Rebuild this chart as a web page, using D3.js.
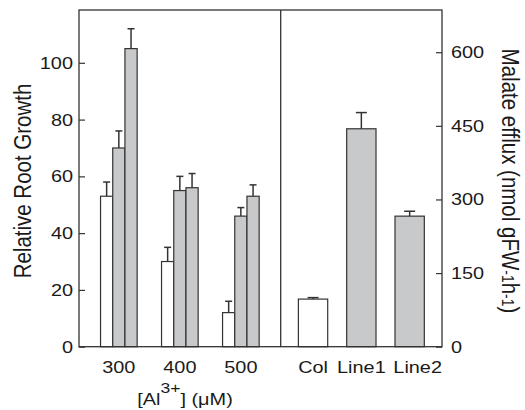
<!DOCTYPE html>
<html>
<head>
<meta charset="utf-8">
<script src="https://cdn.jsdelivr.net/npm/d3@7"></script>
<style>
  body { margin: 0; background: #fff; }
  svg { display: block; }
  text { font-family: "Liberation Sans", Arial, sans-serif; fill: #1a1a1a; }
</style>
</head>
<body>
<svg id="chart" width="525" height="410"></svg>
<script>
const doses = ['300', '400', '500'];
const genotypes = ['Col', 'Line1', 'Line2'];

// relative root growth, one array per genotype (order follows doses)
const colGrowth = [53, 30, 12];
const colGrowthErr = [5, 5, 4];
const line1Growth = [70, 55, 46];
const line1GrowthErr = [6, 5, 3];
const line2Growth = [105, 56, 53];
const line2GrowthErr = [7, 5, 4];
const growthTicks = [0, 20, 40, 60, 80, 100];

// malate efflux (order follows genotypes)
const malate = [97, 444, 266];
const malateErr = [3, 33, 10];
const malateTicks = [0, 150, 300, 450, 600];

const growthRows = doses.flatMap((dose, i) => [
  {dose, genotype: 'Col', value: colGrowth[i], err: colGrowthErr[i]},
  {dose, genotype: 'Line1', value: line1Growth[i], err: line1GrowthErr[i]},
  {dose, genotype: 'Line2', value: line2Growth[i], err: line2GrowthErr[i]}
]);
const malateRows = genotypes.map((genotype, i) => ({genotype, value: malate[i], err: malateErr[i]}));

const W = 525, H = 410;
const margin = {top: 10, right: 83, bottom: 63.3, left: 79};
const right = W - margin.right;
const bottom = H - margin.bottom;
const split = 280.7;
const SX = 1.17; // the original lettering is a bit wide
const tickFont = 17, labelFont = 20.5;
const ink = '#333';
const fillOf = g => g === 'Col' ? '#fff' : '#c8c9cb';

const svg = d3.select('#chart');

const x0 = d3.scaleBand().domain(doses).range([margin.left, split])
  .paddingInner(0.4).paddingOuter(0.353);
const x1 = d3.scaleBand().domain(genotypes).range([0, x0.bandwidth()]);
const xR = d3.scaleBand().domain(genotypes).range([split, right])
  .paddingInner(0.393).paddingOuter(0.366);
const yL = d3.scaleLinear().domain([0, 118.6]).range([bottom, margin.top]);
const yR = d3.scaleLinear().domain([0, 686]).range([bottom, margin.top]);

function widen(sel) {
  sel.each(function() {
    const t = d3.select(this);
    const x = +(t.attr('x') || 0);
    t.attr('x', x / SX).attr('transform', `scale(${SX},1)`);
  });
}

// left panel bars
const left = svg.append('g');
left.selectAll('rect')
  .data(growthRows)
  .join('rect')
    .attr('x', d => x0(d.dose) + x1(d.genotype))
    .attr('y', d => yL(d.value))
    .attr('width', x1.bandwidth())
    .attr('height', d => yL(0) - yL(d.value))
    .attr('fill', d => fillOf(d.genotype))
    .attr('stroke', ink).attr('stroke-width', 1.2);

const errL = left.append('g').attr('stroke', ink).attr('stroke-width', 1.5)
  .selectAll('g').data(growthRows).join('g')
    .attr('transform', d => `translate(${x0(d.dose) + x1(d.genotype) + x1.bandwidth() / 2},0)`);
errL.append('line').attr('y1', d => yL(d.value)).attr('y2', d => yL(d.value + d.err));
errL.append('line').attr('x1', -3.5).attr('x2', 3.5)
  .attr('y1', d => yL(d.value + d.err)).attr('y2', d => yL(d.value + d.err));

// right panel bars
const rightG = svg.append('g');
rightG.selectAll('rect')
  .data(malateRows)
  .join('rect')
    .attr('x', d => xR(d.genotype))
    .attr('y', d => yR(d.value))
    .attr('width', xR.bandwidth())
    .attr('height', d => yR(0) - yR(d.value))
    .attr('fill', d => fillOf(d.genotype))
    .attr('stroke', ink).attr('stroke-width', 1.2);

const errR = rightG.append('g').attr('stroke', ink).attr('stroke-width', 1.5)
  .selectAll('g').data(malateRows).join('g')
    .attr('transform', d => `translate(${xR(d.genotype) + xR.bandwidth() / 2},0)`);
errR.append('line').attr('y1', d => yR(d.value)).attr('y2', d => yR(d.value + d.err));
errR.append('line').attr('x1', -5.5).attr('x2', 5.5)
  .attr('y1', d => yR(d.value + d.err)).attr('y2', d => yR(d.value + d.err));

// frame + divider
svg.append('rect')
  .attr('x', margin.left).attr('y', margin.top)
  .attr('width', right - margin.left).attr('height', bottom - margin.top)
  .attr('fill', 'none').attr('stroke', ink).attr('stroke-width', 1.3);
svg.append('line')
  .attr('x1', split).attr('x2', split).attr('y1', margin.top).attr('y2', bottom)
  .attr('stroke', ink).attr('stroke-width', 1.3);

function styleAxis(g) {
  g.select('.domain').remove();
  g.attr('font-size', tickFont).attr('font-family', null).attr('color', ink);
  g.selectAll('.tick line').attr('stroke-width', 1.2);
  g.selectAll('text').attr('fill', '#1a1a1a').call(widen);
}

svg.append('g')
  .attr('transform', `translate(${margin.left},0)`)
  .call(d3.axisLeft(yL).tickValues(growthTicks).tickSizeInner(-6).tickSizeOuter(0).tickPadding(6))
  .call(styleAxis);

svg.append('g')
  .attr('transform', `translate(${right},0)`)
  .call(d3.axisRight(yR).tickValues(malateTicks).tickSizeInner(-6).tickSizeOuter(0).tickPadding(9))
  .call(styleAxis);

svg.append('g')
  .attr('transform', `translate(0,${bottom})`)
  .call(d3.axisBottom(x0).tickSize(0).tickPadding(14.5))
  .call(styleAxis);

svg.append('g')
  .attr('transform', `translate(0,${bottom})`)
  .call(d3.axisBottom(xR).tickSize(0).tickPadding(14.5))
  .call(styleAxis)
  // the last label sits a little right of its bar in the original
  .call(g => g.selectAll('text').filter(d => d === 'Line2').attr('dx', 8 / SX));

// axis titles
svg.append('g').attr('transform', 'translate(31,181)')
  .append('text')
    .attr('text-anchor', 'middle')
    .attr('font-size', labelFont)
    .attr('transform', `scale(${SX},1) rotate(-90)`)
    .text('Relative Root Growth');

const yTitleR = svg.append('g').attr('transform', 'translate(502,181)')
  .append('text')
    .attr('text-anchor', 'middle')
    .attr('font-size', labelFont)
    .attr('transform', `scale(${SX},1) rotate(90)`);
yTitleR.append('tspan').text('Malate efflux (nmol gFW');
yTitleR.append('tspan').attr('font-size', 14).text('-1');
yTitleR.append('tspan').text('h');
yTitleR.append('tspan').attr('font-size', 14).text('-1');
yTitleR.append('tspan').text(')');

const xTitle = svg.append('g').attr('transform', 'translate(185,405)')
  .append('text')
    .attr('text-anchor', 'middle')
    .attr('font-size', tickFont)
    .attr('transform', `scale(${SX},1)`);
xTitle.append('tspan').text('[Al');
xTitle.append('tspan').attr('font-size', 15).attr('dy', -12).text('3+');
xTitle.append('tspan').attr('dy', 12).text('] (\u03bcM)');
</script>
</body>
</html>
